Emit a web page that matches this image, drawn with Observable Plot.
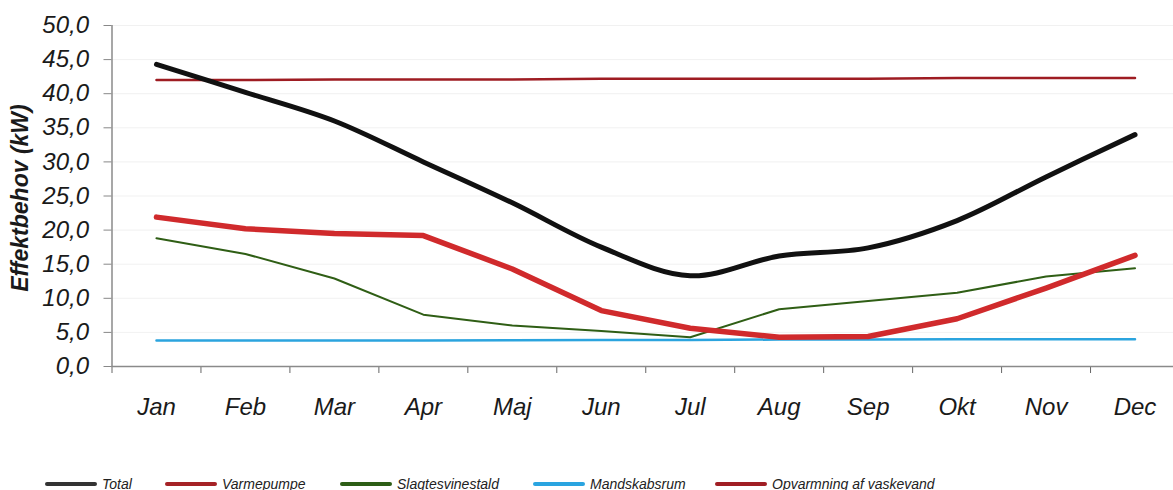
<!DOCTYPE html>
<html>
<head>
<meta charset="utf-8">
<script src="https://cdn.jsdelivr.net/npm/d3@7"></script>
<script src="https://cdn.jsdelivr.net/npm/@observablehq/plot@0.6"></script>
<style>
  html, body { margin: 0; padding: 0; background: #fff; }
  body { width: 1173px; height: 490px; overflow: hidden; font-family: "Liberation Sans", Arial, sans-serif; }
  #legend { position: relative; height: 50px; font-style: italic; font-size: 14px; color: #222; }
  .item { position: absolute; top: 36px; display: flex; align-items: center; height: 16px; white-space: nowrap; }
  .sw { display: inline-block; width: 52px; height: 4px; border-radius: 2px; margin-right: 5px; }
</style>
</head>
<body>
<div id="chart"></div>
<div id="legend"></div>
<script>
const months = ["Jan","Feb","Mar","Apr","Maj","Jun","Jul","Aug","Sep","Okt","Nov","Dec"];
const total            = [44.3, 40.2, 36.0, 30.0, 24.0, 17.5, 13.3, 16.2, 17.4, 21.4, 27.8, 34.0];
const varmepumpe       = [21.9, 20.2, 19.5, 19.2, 14.3, 8.2, 5.6, 4.3, 4.4, 7.0, 11.5, 16.3];
const slagtesvinestald = [18.8, 16.5, 12.9, 7.6, 6.0, 5.2, 4.3, 8.4, 9.6, 10.8, 13.2, 14.4];
const mandskabsrum     = [3.8, 3.8, 3.8, 3.8, 3.85, 3.9, 3.9, 3.95, 3.95, 4.0, 4.0, 4.0];
const opvarmning       = [42.0, 42.0, 42.1, 42.1, 42.1, 42.2, 42.2, 42.2, 42.2, 42.3, 42.3, 42.3];
const yTicks = [0, 5, 10, 15, 20, 25, 30, 35, 40, 45, 50];
const yLabel = "Effektbehov (kW)";

const series = [
  {name: "Total", values: total, color: "#111111", legend: "#333333", width: 5, curve: "catmull-rom"},
  {name: "Varmepumpe", values: varmepumpe, color: "#d02a2c", legend: "#a52226", width: 5.5, curve: "linear"},
  {name: "Slagtesvinestald", values: slagtesvinestald, color: "#2f5e15", legend: "#2d5e16", width: 2, curve: "linear"},
  {name: "Mandskabsrum", values: mandskabsrum, color: "#2ba4de", legend: "#2aa4e0", width: 2.5, curve: "linear"},
  {name: "Opvarmning af vaskevand", values: opvarmning, color: "#9e1c22", legend: "#a01e24", width: 2.5, curve: "linear"}
];

const rows = s => s.values.map((v, i) => ({i, v, month: months[i]}));
const boundaries = months.map((_, i) => i - 0.5).concat([months.length - 0.5]);
const centers = months.map((_, i) => i);
const fmt = d => d.toFixed(1).replace(".", ",");

const drawOrder = series.slice().reverse();

const chart = Plot.plot({
  width: 1173,
  height: 440,
  marginLeft: 111.5,
  marginTop: 25,
  marginBottom: 74,
  marginRight: 0,
  style: {fontFamily: "'Liberation Sans', Arial, sans-serif", fontStyle: "italic", color: "#1a1a1a", background: "#fff", overflow: "visible"},
  x: {type: "linear", domain: [-0.5, 11.5], range: [111.5, 1179], axis: null},
  y: {domain: [0, 50], range: [366, 25], axis: null},
  marks: [
    Plot.gridY(yTicks.slice(1), {stroke: "#d8d8d8", strokeOpacity: 0.35, strokeWidth: 1}),
    Plot.axisY(yTicks, {anchor: "left", tickSize: 8, tickPadding: 15, tickFormat: fmt, fontSize: 24, stroke: "#888", label: null}),
    Plot.axisX(boundaries, {anchor: "bottom", tickSize: 7, tickFormat: () => "", stroke: "#666", label: null}),
    Plot.axisX(centers, {anchor: "bottom", tickSize: 0, tickPadding: 31, tickFormat: i => months[i], fontSize: 24, label: null}),
    Plot.ruleX([-0.5], {stroke: "#8a8a8a", strokeWidth: 1.5}),
    Plot.ruleY([0], {stroke: "#8a8a8a", strokeWidth: 1.5}),
    ...drawOrder.map(s => Plot.line(rows(s), {x: "i", y: "v", stroke: s.color, strokeWidth: s.width, curve: s.curve, strokeLinecap: "round", strokeLinejoin: "round"})),
    Plot.text([yLabel], {frameAnchor: "left", textAnchor: "middle", dx: -91.5, dy: 2, rotate: -90, fontSize: 23, fontWeight: "bold", fill: "#1a1a1a"})
  ]
});
document.getElementById("chart").appendChild(chart);

const legendLeft = [45, 165, 340, 533, 715];
const legend = document.getElementById("legend");
series.forEach((s, k) => {
  const it = document.createElement("div");
  it.className = "item";
  it.style.left = legendLeft[k] + "px";
  const sw = document.createElement("span");
  sw.className = "sw";
  sw.style.background = s.legend;
  const tx = document.createElement("span");
  tx.textContent = s.name;
  it.appendChild(sw);
  it.appendChild(tx);
  legend.appendChild(it);
});
</script>
</body>
</html>
